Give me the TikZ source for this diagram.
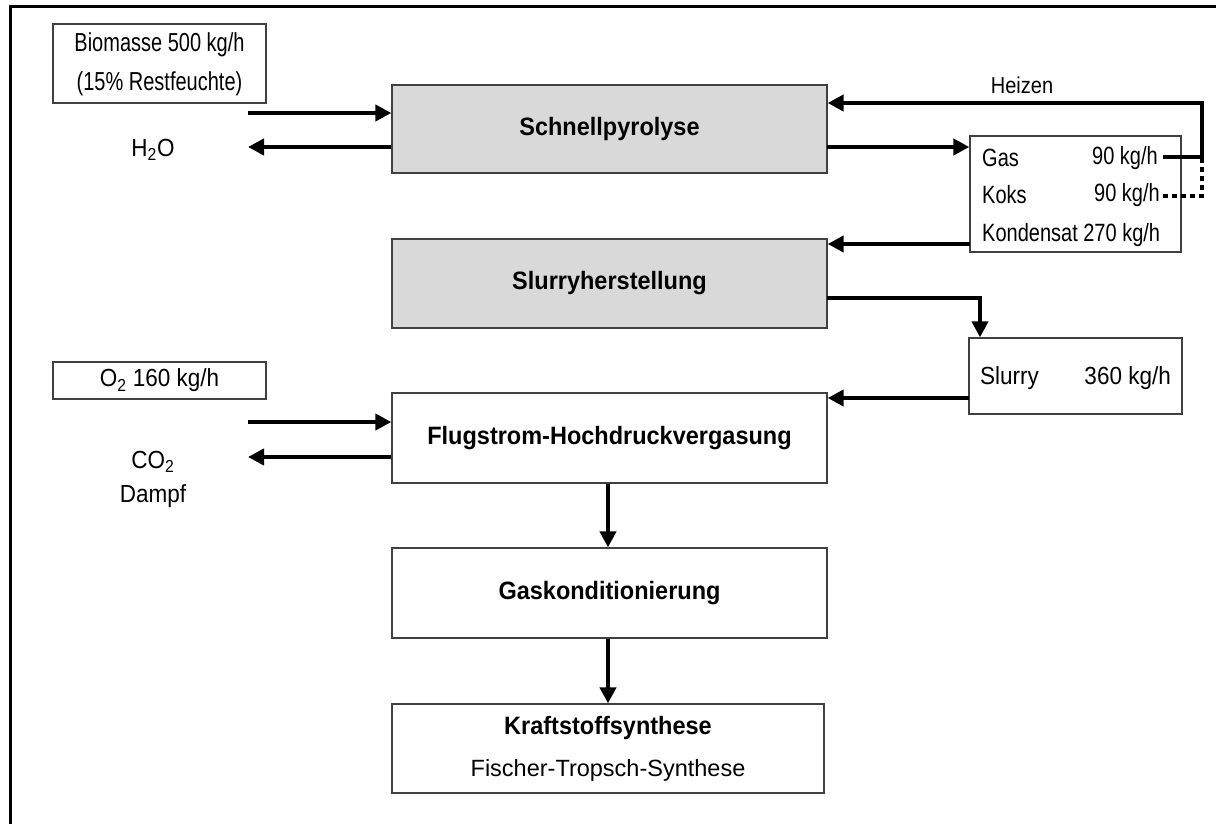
\documentclass[tikz,border=0pt]{standalone}
\usepackage{fontspec}
\setmainfont{Liberation Sans}
\usetikzlibrary{arrows.meta}
\newcommand{\vst}[2][1.25]{\scalebox{1}[#1]{#2}}
\begin{document}
\begin{tikzpicture}[x=1pt,y=-1pt,
  box/.style={draw=black!75, line width=1.3pt, rectangle, inner sep=0pt},
  proc/.style={box, fill=gray!30},
  flow/.style={line width=4.5pt, -{Triangle[length=16pt,width=16pt]}},
  dotline/.style={line width=4.5pt, dash pattern=on 4.5pt off 4.5pt},
  txt/.style={inner sep=0pt, font=\fontsize{20}{24}\selectfont},
  mtxt/.style={inner sep=0pt, font=\fontsize{22.5}{27}\selectfont},
  btxt/.style={inner sep=0pt, font=\fontsize{23.5}{28}\selectfont\bfseries},
]
\useasboundingbox (0,0) rectangle (1216,824);
\draw[line width=3pt] (10,824) -- (10,7) -- (1216,7);

% boxes
\node[box, minimum width=213pt, minimum height=79pt] (bio) at (159.5,63.5) {};
\node[txt] (bio1) at (159.5,45) {\vst[1.3]{Biomasse 500 kg/h}};
\node[txt] (bio2) at (159.5,84) {\vst[1.3]{(15\% Restfeuchte)}};
\node[proc, minimum width=435pt, minimum height=88pt] (s1) at (609.5,129) {};
\node[btxt] (s1t) at (s1.center) {\vst[1.07]{Schnellpyrolyse}};
\node[box, minimum width=211pt, minimum height=116pt] (p) at (1075.5,194) {};
\node[proc, minimum width=435pt, minimum height=89pt] (s2) at (609.5,283.5) {};
\node[btxt] (s2t) at (s2.center) {\vst[1.07]{Slurryherstellung}};
\node[box, minimum width=213pt, minimum height=76pt] (sl) at (1075.5,376) {};
\node[box, minimum width=213pt, minimum height=37pt] (o2) at (159.5,380.5) {};
\node[mtxt] (o2t) at (o2.center) {\vst[1.1]{O\textsubscript{2} 160 kg/h}};
\node[box, minimum width=435pt, minimum height=90pt] (f) at (609.5,438) {};
\node[btxt] (ft) at (f.center) {\vst[1.07]{Flugstrom-Hochdruckvergasung}};
\node[box, minimum width=435pt, minimum height=90pt] (g) at (609.5,593) {};
\node[btxt] (gt) at (g.center) {\vst[1.07]{Gaskonditionierung}};
\node[box, minimum width=432pt, minimum height=89pt] (k) at (608,748.5) {};
\node[btxt] (kt1) at (608,728) {\vst[1.07]{Kraftstoffsynthese}};
\node[inner sep=0pt, font=\fontsize{23.5}{28}\selectfont] (kt2) at (608,770) {Fischer-Tropsch-Synthese};

% labels
\node[mtxt] (h2o) at (153,150) {\vst[1.1]{H\textsubscript{2}O}};
\node[mtxt] (co2) at (153,462) {\vst[1.1]{CO\textsubscript{2}}};
\node[mtxt] (dampf) at (153,496) {\vst[1.1]{Dampf}};
\node[txt] (heiz) at (1022,85) {\vst[1.15]{Heizen}};
\node[txt, anchor=west] (gas) at (982,158) {\vst{Gas}};
\node[txt, anchor=east] (gasv) at (1158,158) {\vst{90 kg/h}};
\node[txt, anchor=west] (koks) at (982,195) {\vst{Koks}};
\node[txt, anchor=east] (koksv) at (1160,195) {\vst{90 kg/h}};
\node[txt, anchor=west] (kond) at (982,235) {\vst{Kondensat 270 kg/h}};
\node[mtxt, anchor=west] (slt) at (980,378) {\vst[1.1]{Slurry}};
\node[mtxt, anchor=east] (slv) at (1171,378) {\vst[1.1]{360 kg/h}};

% connectors
\coordinate (bin) at (248,113);
\draw[flow] (bin) -- (s1.west |- bin);
\coordinate (hout) at (248,147);
\draw[flow] (s1.west |- hout) -- (hout);
\coordinate (s1o) at (827,147);
\draw[flow] (s1o) -- (p.west |- s1o);
\coordinate (g1) at (1163,157);
\coordinate (g2) at (1202,157);
\coordinate (g3) at (1202,103);
\draw[flow] (g1) -- (g2) -- (g3) -- (s1.east |- g3);
\coordinate (k1) at (1163,196);
\coordinate (k2) at (1202,196);
\draw[dotline] (k1) -- (k2) -- (g2);
\coordinate (ks) at (970,244);
\draw[flow] (ks) -- (s2.east |- ks);
\coordinate (sa) at (827,298);
\coordinate (sb) at (980,298);
\draw[flow] (sa) -- (sb) -- (sb |- sl.north);
\coordinate (sc) at (969,398);
\draw[flow] (sc) -- (f.east |- sc);
\coordinate (oin) at (248,422);
\draw[flow] (oin) -- (f.west |- oin);
\coordinate (cout) at (248,457);
\draw[flow] (f.west |- cout) -- (cout);
\draw[flow] (f.south -| k.north) -- (g.north -| k.north);
\draw[flow] (g.south -| k.north) -- (k.north);
\end{tikzpicture}
\end{document}
